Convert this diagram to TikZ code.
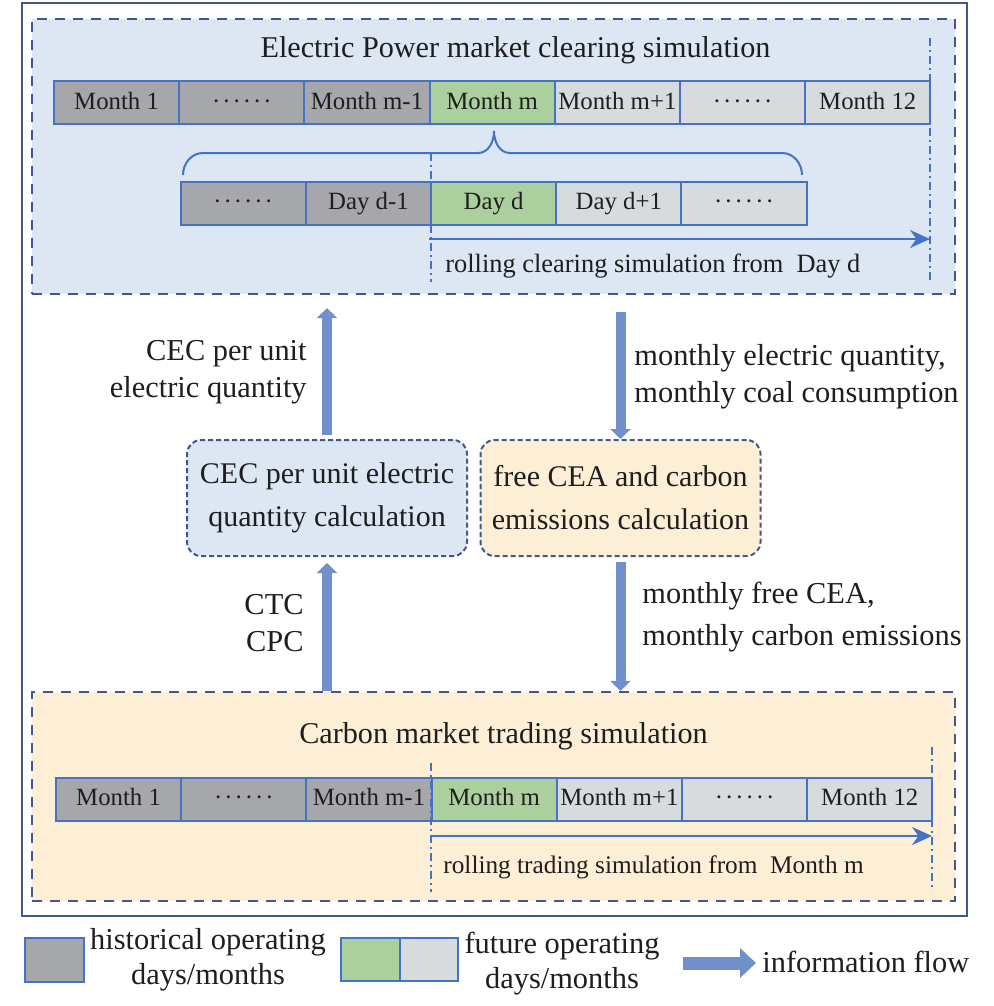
\documentclass[tikz,border=0pt]{standalone}
\usepackage{fontspec}
\setmainfont{Liberation Serif}
\usetikzlibrary{arrows.meta}

\definecolor{framec}{RGB}{64,88,140}
\definecolor{cellc}{RGB}{68,114,196}
\definecolor{pastc}{RGB}{165,167,170}
\definecolor{nowc}{RGB}{172,207,158}
\definecolor{nextc}{RGB}{216,219,222}
\definecolor{powerc}{RGB}{220,231,243}
\definecolor{carbonc}{RGB}{253,239,213}
\definecolor{flowc}{RGB}{112,143,203}
\definecolor{inkc}{RGB}{30,30,30}
\newcommand{\sixdots}{\textperiodcentered\kern1pt\textperiodcentered\kern1pt\textperiodcentered\kern1pt\textperiodcentered\kern1pt\textperiodcentered\kern1pt\textperiodcentered}

\begin{document}
\begin{tikzpicture}[
    x=0.5pt, y=-0.5pt,
    every node/.style={text=inkc},
    cell/.style={draw=cellc, line width=1pt, minimum width=62.6pt, minimum height=21.5pt,
      inner sep=0, text height=0.66em, text depth=0pt, font=\fontsize{12.4}{14}\selectfont},
    past/.style={cell, fill=pastc},
    now/.style={cell, fill=nowc},
    next/.style={cell, fill=nextc},
    region/.style={draw=framec, line width=1.1pt, dash pattern=on 5pt off 4pt, inner sep=0},
    calcbox/.style={draw=framec, line width=1pt, dash pattern=on 2.5pt off 1.5pt, rounded corners=7pt,
      minimum width=140pt, minimum height=58pt, inner sep=0, align=center,
      font=\fontsize{15}{21.5}\selectfont},
    marker/.style={draw=cellc, line width=0.9pt, dash pattern=on 4pt off 2pt on 1pt off 2pt},
    roll/.style={draw=cellc, line width=1.3pt, -{Stealth[length=10pt, width=9pt]}},
    flow/.style={draw=flowc, line width=5pt, -{Triangle[length=5pt, width=10pt]}},
    flowtext/.style={font=\fontsize{15.2}{18.5}\selectfont, inner sep=0},
    rolltext/.style={font=\fontsize{13.2}{16}\selectfont, inner sep=0, anchor=base west},
    title/.style={font=\fontsize{15.1}{18}\selectfont, inner sep=0, anchor=base}
  ]
  \useasboundingbox (0,0) rectangle (994,1006);
  \draw[framec, line width=1.1pt] (22,3) rectangle (967,916);

  % power market
  \node[region, fill=powerc, minimum width=461.5pt, minimum height=137.5pt] (power) at (493.5,156.5) {};
  \node[title] (powertitle) at (515.5,58) {Electric Power market clearing simulation};
  \node[past] (pm1) at (116.6,102.5) {Month 1};
  \node[past] (pm2) at (241.8,102.5) {\sixdots};
  \node[past] (pm3) at (367,102.5) {Month m-1};
  \node[now] (pm4) at (492.2,102.5) {Month m};
  \node[next] (pm5) at (617.4,102.5) {Month m+1};
  \node[next] (pm6) at (742.6,102.5) {\sixdots};
  \node[next] (pm7) at (867.8,102.5) {Month 12};
  \draw[cellc, line width=1pt] (183,175) to[out=90, in=180] (203,153) -- (478,153)
    to[out=0, in=-90] (494,131) to[out=-90, in=180] (510,153) -- (782,153)
    to[out=0, in=90] (802,175);
  \node[past] (pd1) at (243.2,203) {\sixdots};
  \node[past] (pd2) at (368.4,203) {Day d-1};
  \node[now] (pd3) at (493.6,203) {Day d};
  \node[next] (pd4) at (618.8,203) {Day d+1};
  \node[next] (pd5) at (744,203) {\sixdots};
  \draw[marker] (431,153) -- (431,282);
  \draw[marker] (930,38) -- (930,282);
  \coordinate (powerstart) at (429,239);
  \coordinate (powerend) at (930,239);
  \draw[roll] (powerstart) -- (powerend);
  \node[rolltext] (powerroll) at (445,272) {rolling clearing simulation from\ \ Day d};

  % carbon market
  \node[region, fill=carbonc, minimum width=461.5pt, minimum height=104.5pt] (carbon) at (493.5,796.5) {};
  \node[title] (carbontitle) at (503.5,743) {Carbon market trading simulation};
  \node[past] (cm1) at (118.6,799) {Month 1};
  \node[past] (cm2) at (243.8,799) {\sixdots};
  \node[past] (cm3) at (369,799) {Month m-1};
  \node[now] (cm4) at (494.2,799) {Month m};
  \node[next] (cm5) at (619.4,799) {Month m+1};
  \node[next] (cm6) at (744.6,799) {\sixdots};
  \node[next] (cm7) at (869.8,799) {Month 12};
  \draw[marker] (431,763) -- (431,892);
  \draw[marker] (932,747) -- (932,891);
  \coordinate (carbonstart) at (431,836);
  \coordinate (carbonend) at (932,836);
  \draw[roll] (carbonstart) -- (carbonend);
  \node[rolltext, font=\fontsize{12.65}{16}\selectfont] (carbonroll) at (443,873) {rolling trading simulation from\ \ Month m};

  % calculations and information flow
  \node[calcbox, fill=powerc] (cecbox) at (327,498) {CEC per unit electric\\quantity calculation};
  \node[calcbox, fill=carbonc] (ceabox) at (620.5,498) {free CEA and carbon\\emissions calculation};
  \draw[flow, shorten <=2pt, shorten >=6.5pt] (cecbox.north) -- (cecbox.north |- power.south);
  \draw[flow, shorten <=8.5pt] (ceabox.north |- power.south) -- (ceabox.north);
  \draw[flow, shorten >=3pt] (cecbox.south |- carbon.north) -- (cecbox.south);
  \draw[flow, shorten <=2.5pt] (ceabox.south) -- (ceabox.south |- carbon.north);
  \node[flowtext, anchor=east, align=right] (cecout) at (307,372) {CEC per unit\\electric quantity};
  \node[flowtext, anchor=west, align=left] (powerout) at (634,376.5) {monthly electric quantity,\\monthly coal consumption};
  \node[flowtext, anchor=east, align=right] (carbonout) at (304,623.5) {CTC\\CPC};
  \node[flowtext, anchor=west, align=left, font=\fontsize{15.2}{21}\selectfont] (ceaout) at (642,617) {monthly free CEA,\\monthly carbon emissions};

  % legend
  \node[past, minimum width=29.5pt, minimum height=22pt] (keypast) at (54.5,960) {};
  \node[flowtext, align=center, font=\fontsize{15.2}{17.5}\selectfont] (keypasttext) at (208,960) {historical operating\\days/months};
  \node[now, minimum width=29.5pt, minimum height=21.5pt] (keynow) at (370.5,959.5) {};
  \node[next, minimum width=29pt, minimum height=21.5pt] (keynext) at (429,959.5) {};
  \node[flowtext, align=center, font=\fontsize{15.2}{17.5}\selectfont] (keynexttext) at (562,963.5) {future operating\\days/months};
  \coordinate (keyfrom) at (683,963);
  \coordinate (keyto) at (756,963);
  \draw[flow, line width=6.5pt, -{Triangle[length=8pt, width=14.5pt]}] (keyfrom) -- (keyto);
  \node[flowtext, anchor=base west] (keyflow) at (762,972) {information flow};
\end{tikzpicture}
\end{document}
